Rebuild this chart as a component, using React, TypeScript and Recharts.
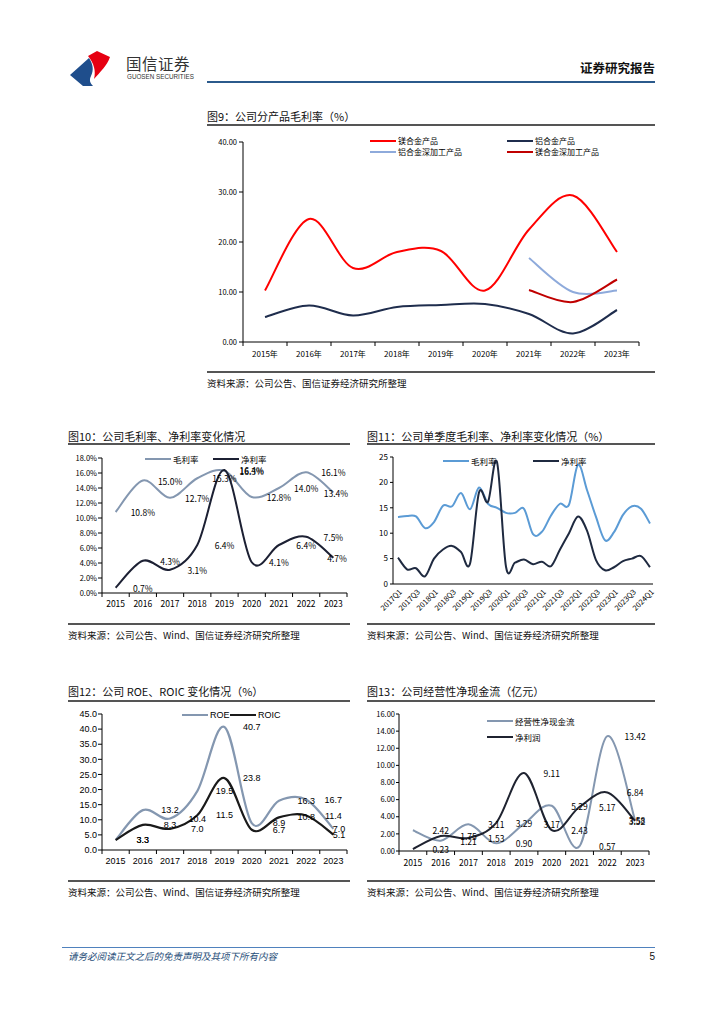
import React from "react";
import { LineChart, Line, XAxis, YAxis, Legend, LabelList } from "recharts";

const CJK = '"Noto Sans CJK SC", "Noto Sans", sans-serif';
const ARIAL = '"Liberation Sans", Arial, sans-serif';

// ---- data ----
const years = ["2015", "2016", "2017", "2018", "2019", "2020", "2021", "2022", "2023"];

// 图9 分产品毛利率
const mgProduct = [10.3, 24.6, 14.8, 18.0, 18.2, 10.3, 22.5, 29.3, 18.0];
const alProduct = [5.0, 7.3, 5.3, 7.0, 7.4, 7.6, 5.6, 1.7, 6.4];
const alDeep = [null, null, null, null, null, null, 16.8, 10.0, 10.3];
const mgDeep = [null, null, null, null, null, null, 10.4, 8.0, 12.5];

// 图10 毛利率、净利率
const grossMargin = [10.8, 15.0, 12.7, 15.3, 16.3, 12.8, 14.0, 16.1, 13.4];
const netMargin = [0.7, 4.3, 3.1, 6.4, 16.4, 4.1, 6.4, 7.5, 4.7];

// 图11 单季度
const quarters = [
  "2017Q1", "2017Q2", "2017Q3", "2017Q4", "2018Q1", "2018Q2", "2018Q3", "2018Q4",
  "2019Q1", "2019Q2", "2019Q3", "2019Q4", "2020Q1", "2020Q2", "2020Q3", "2020Q4",
  "2021Q1", "2021Q2", "2021Q3", "2021Q4", "2022Q1", "2022Q2", "2022Q3", "2022Q4",
  "2023Q1", "2023Q2", "2023Q3", "2023Q4", "2024Q1",
];
const qGross = [
  13.2, 13.4, 13.3, 11.0, 12.2, 15.4, 15.3, 17.9, 14.7, 19.0, 15.8, 15.0, 14.0, 14.0, 14.8,
  9.8, 10.3, 13.5, 15.8, 15.6, 23.5, 18.5, 13.2, 8.6, 10.2, 13.6, 15.3, 14.8, 11.9,
];
const qNet = [
  5.2, 2.9, 3.1, 1.5, 5.0, 6.8, 7.5, 6.3, 4.0, 18.0, 16.2, 24.0, 3.4, 4.2, 4.8,
  3.9, 4.4, 3.5, 6.8, 10.0, 13.3, 10.5, 4.7, 2.7, 3.3, 4.5, 5.0, 5.5, 3.3,
];

// 图12 ROE、ROIC
const roe = [3.3, 13.2, 10.4, 19.5, 40.7, 8.9, 16.3, 16.7, 7.0];
const roic = [3.3, 8.3, 7.0, 11.5, 23.8, 6.7, 10.8, 11.4, 5.1];

// 图13 经营性净现金流
const opCash = [2.42, 1.21, 3.11, 0.9, 3.17, 5.29, 0.57, 13.42, 3.58];
const netProfit = [0.23, 1.75, 1.53, 3.29, 9.11, 2.43, 5.17, 6.84, 3.52];

const data9 = years.map((y, i) => ({
  year: y + "年", mg: mgProduct[i], al: alProduct[i], alDeep: alDeep[i], mgDeep: mgDeep[i],
}));
const data10 = years.map((y, i) => ({ year: y, gross: grossMargin[i], net: netMargin[i] }));
const data11 = quarters.map((q, i) => ({ q, gross: qGross[i], net: qNet[i] }));
const data12 = years.map((y, i) => ({ year: y, roe: roe[i], roic: roic[i] }));
const data13 = years.map((y, i) => ({ year: y, op: opCash[i], net: netProfit[i] }));

// excel-like smoothed line (catmull-rom through the points)
const smooth: any = (context: any) => {
  let pts: number[][] = [];
  return {
    areaStart() {},
    areaEnd() {},
    lineStart() {
      pts = [];
    },
    point(x: number, y: number) {
      pts.push([+x, +y]);
    },
    lineEnd() {
      if (!pts.length) return;
      context.moveTo(pts[0][0], pts[0][1]);
      for (let i = 0; i < pts.length - 1; i++) {
        const p0 = pts[i - 1] || pts[i];
        const p1 = pts[i];
        const p2 = pts[i + 1];
        const p3 = pts[i + 2] || p2;
        context.bezierCurveTo(
          p1[0] + (p2[0] - p0[0]) / 6, p1[1] + (p2[1] - p0[1]) / 6,
          p2[0] - (p3[0] - p1[0]) / 6, p2[1] - (p3[1] - p1[1]) / 6,
          p2[0], p2[1]
        );
      }
    },
  };
};

// x tick with excel style tick marks between categories
const bandTick = (band: number, count: number, size: number, font: string, dy: number) => (p: any) => {
  const { x, y, payload, index } = p;
  return (
    <g>
      <line x1={x - band / 2} x2={x - band / 2} y1={y} y2={y + 4} stroke="#000" />
      {index === count - 1 && <line x1={x + band / 2} x2={x + band / 2} y1={y} y2={y + 4} stroke="#000" />}
      <text x={x} y={y + dy} textAnchor="middle" dominantBaseline="central" fontSize={size} fontFamily={font} fill="#000">
        {payload.value}
      </text>
    </g>
  );
};

const rotTick = (p: any) => {
  const { x, y, payload } = p;
  return (
    <text x={x + 2} y={y} transform={`rotate(-45 ${x + 2} ${y})`} textAnchor="end" dominantBaseline="central"
      fontSize={7.5} fontFamily={CJK} fill="#000">
      {payload.value}
    </text>
  );
};

// data labels shifted one category right, like the source charts
const shiftLabel = (shift: number, maxX: number, fmt: (v: number) => string, size: number, font: string) => (p: any) => {
  if (p.value == null) return null;
  const cx = Math.min(p.x + shift, maxX);
  return (
    <text x={cx} y={p.y} textAnchor="middle" dominantBaseline="central" fontSize={size} fontFamily={font} fill="#000">
      {fmt(p.value)}
    </text>
  );
};

type LegendItem = { label: string; color: string; x: number; y: number };
const legendContent = (items: LegendItem[], size: number, font: string) => () => (
  <div style={{ position: "relative", width: 1, height: 1 }}>
    {items.map((it) => (
      <div key={it.label} style={{ position: "absolute", left: it.x, top: it.y - 7, height: 14, display: "flex", alignItems: "center", whiteSpace: "nowrap" }}>
        <span style={{ display: "inline-block", width: 26, height: 2, background: it.color, marginRight: 2 }} />
        <span style={{ fontSize: size, fontFamily: font, color: "#000", lineHeight: "14px" }}>{it.label}</span>
      </div>
    ))}
  </div>
);

const yTick = (size: number, font: string) => ({ fontSize: size, fontFamily: font, fill: "#000" });

function Frame({ left, width, title, titleTop, lineTop, srcLineTop, source }: any) {
  return (
    <>
      <div style={{ position: "absolute", left, top: titleTop, fontSize: 11, lineHeight: "14px", color: "#111", fontFamily: CJK, whiteSpace: "nowrap" }}>
        {title}
      </div>
      <div style={{ position: "absolute", left, top: lineTop, width, height: 1.5, background: "#555" }} />
      <div style={{ position: "absolute", left, top: srcLineTop, width, height: 1.5, background: "#555" }} />
      <div style={{ position: "absolute", left, top: srcLineTop + 5, fontSize: 9.5, lineHeight: "14px", color: "#111", fontFamily: CJK, whiteSpace: "nowrap" }}>
        {source}
      </div>
    </>
  );
}

const legendWrap = { left: 0, top: 0, width: 1, height: 1 };

export default function App() {
  const b10 = 245 / 9;
  const b13 = 250 / 9;
  return (
    <div style={{ position: "absolute", left: 0, top: 0, width: 724, height: 1024, background: "#fff", fontFamily: CJK, overflow: "hidden" }}>
      {/* header */}
      <svg style={{ position: "absolute", left: 68, top: 50 }} width={46} height={38}>
        <path d="M2,25 L21,8 C25,14 26,20 23,26 C21,30 22,33 25,36 L15,36 Z" fill="#1f4e8c" />
        <path d="M20,6 L29,1 L42,7 C39,16 32,22 26,29 C28,21 26,13 20,6 Z" fill="#e60012" />
      </svg>
      <div style={{ position: "absolute", left: 126, top: 54, fontSize: 15.5, lineHeight: "18px", color: "#333", fontFamily: CJK, letterSpacing: 0.5 }}>
        国信证券
      </div>
      <div style={{ position: "absolute", left: 127, top: 73, fontSize: 6.3, lineHeight: "8px", color: "#333", fontFamily: ARIAL }}>
        GUOSEN SECURITIES
      </div>
      <div style={{ position: "absolute", right: 724 - 655, top: 60, fontSize: 12.5, lineHeight: "16px", fontWeight: 700, color: "#111", fontFamily: CJK }}>
        证券研究报告
      </div>
      <div style={{ position: "absolute", left: 207, top: 81, width: 448, height: 2, background: "#2b5a8c" }} />

      {/* 图9 */}
      <Frame left={207} width={448} title="图9：公司分产品毛利率（%）" titleTop={109} lineTop={124} srcLineTop={371}
        source="资料来源：公司公告、国信证券经济研究所整理" />
      <div style={{ position: "absolute", left: 200, top: 130 }}>
        <LineChart width={460} height={245} data={data9} margin={{ top: 12, right: 21, left: 0, bottom: 0 }}>
          <XAxis dataKey="year" interval={0} height={33} tickSize={0} tickMargin={0} tickLine={false}
            axisLine={{ stroke: "#000" }} padding={{ left: 22, right: 22 }} tick={bandTick(44, 9, 8, CJK, 11)} />
          <YAxis width={43} domain={[0, 40]} ticks={[0, 10, 20, 30, 40]} interval={0} tickSize={4} tickMargin={2}
            tickFormatter={(v: number) => v.toFixed(2)} tick={yTick(7.5, CJK)} axisLine={{ stroke: "#000" }} tickLine={{ stroke: "#000" }} />
          <Legend layout="horizontal" verticalAlign="middle" align="center" wrapperStyle={legendWrap}
            content={legendContent([
              { label: "镁合金产品", color: "#ff0000", x: 170, y: 11 },
              { label: "铝合金产品", color: "#1f2d4d", x: 307, y: 11 },
              { label: "铝合金深加工产品", color: "#8eaadb", x: 170, y: 22 },
              { label: "镁合金深加工产品", color: "#c00000", x: 307, y: 22 },
            ], 8, CJK)} />
          <Line dataKey="mg" type={smooth} stroke="#ff0000" strokeWidth={2} dot={false} isAnimationActive={false} />
          <Line dataKey="al" type={smooth} stroke="#1f2d4d" strokeWidth={2} dot={false} isAnimationActive={false} />
          <Line dataKey="alDeep" type={smooth} stroke="#8eaadb" strokeWidth={2} dot={false} isAnimationActive={false} />
          <Line dataKey="mgDeep" type={smooth} stroke="#c00000" strokeWidth={2} dot={false} isAnimationActive={false} />
        </LineChart>
      </div>

      {/* 图10 */}
      <Frame left={68} width={282} title="图10：公司毛利率、净利率变化情况" titleTop={429} lineTop={443} srcLineTop={623}
        source="资料来源：公司公告、Wind、国信证券经济研究所整理" />
      <div style={{ position: "absolute", left: 60, top: 450 }}>
        <LineChart width={295} height={165} data={data10} margin={{ top: 8, right: 8, left: 0, bottom: 0 }}>
          <XAxis dataKey="year" interval={0} height={22} tickSize={0} tickMargin={0} tickLine={false}
            axisLine={{ stroke: "#000" }} padding={{ left: b10 / 2, right: b10 / 2 }} tick={bandTick(b10, 9, 8.5, CJK, 10)} />
          <YAxis width={42} domain={[0, 18]} ticks={[0, 2, 4, 6, 8, 10, 12, 14, 16, 18]} interval={0} tickSize={4} tickMargin={1}
            tickFormatter={(v: number) => v.toFixed(1) + "%"} tick={yTick(7.5, CJK)} axisLine={{ stroke: "#000" }} tickLine={{ stroke: "#000" }} />
          <Legend layout="horizontal" verticalAlign="middle" align="center" wrapperStyle={legendWrap}
            content={legendContent([
              { label: "毛利率", color: "#8497b0", x: 85, y: 9 },
              { label: "净利率", color: "#1c2033", x: 153, y: 9 },
            ], 8.5, CJK)} />
          <Line dataKey="gross" type={smooth} stroke="#8497b0" strokeWidth={2} dot={false} isAnimationActive={false}>
            <LabelList dataKey="gross" content={shiftLabel(b10, 276, (v) => v.toFixed(1) + "%", 8.5, CJK)} />
          </Line>
          <Line dataKey="net" type={smooth} stroke="#1c2033" strokeWidth={2} dot={false} isAnimationActive={false}>
            <LabelList dataKey="net" content={shiftLabel(b10, 277, (v) => v.toFixed(1) + "%", 8.5, CJK)} />
          </Line>
        </LineChart>
      </div>

      {/* 图11 */}
      <Frame left={367} width={288} title="图11：公司单季度毛利率、净利率变化情况（%）" titleTop={429} lineTop={443} srcLineTop={623}
        source="资料来源：公司公告、Wind、国信证券经济研究所整理" />
      <div style={{ position: "absolute", left: 360, top: 450 }}>
        <LineChart width={300} height={174} data={data11} margin={{ top: 7, right: 7, left: 0, bottom: 0 }}>
          <XAxis dataKey="q" interval={1} height={40} tickSize={0} tickMargin={6} tickLine={false}
            axisLine={{ stroke: "#000" }} padding={{ left: 5, right: 3 }} tick={rotTick} />
          <YAxis width={33} domain={[0, 25]} ticks={[0, 5, 10, 15, 20, 25]} interval={0} tickSize={3} tickMargin={2}
            tick={yTick(8, CJK)} axisLine={{ stroke: "#000" }} tickLine={{ stroke: "#000" }} />
          <Legend layout="horizontal" verticalAlign="middle" align="center" wrapperStyle={legendWrap}
            content={legendContent([
              { label: "毛利率", color: "#5b9bd5", x: 83, y: 11 },
              { label: "净利率", color: "#1f2a40", x: 173, y: 11 },
            ], 8.5, CJK)} />
          <Line dataKey="gross" type={smooth} stroke="#5b9bd5" strokeWidth={2} dot={false} isAnimationActive={false} />
          <Line dataKey="net" type={smooth} stroke="#1f2a40" strokeWidth={2} dot={false} isAnimationActive={false} />
        </LineChart>
      </div>

      {/* 图12 */}
      <Frame left={68} width={282} title="图12：公司 ROE、ROIC 变化情况（%）" titleTop={684} lineTop={700} srcLineTop={880}
        source="资料来源：公司公告、Wind、国信证券经济研究所整理" />
      <div style={{ position: "absolute", left: 60, top: 705 }}>
        <LineChart width={295} height={167} data={data12} margin={{ top: 9, right: 8, left: 0, bottom: 0 }}>
          <XAxis dataKey="year" interval={0} height={22} tickSize={0} tickMargin={0} tickLine={false}
            axisLine={{ stroke: "#000" }} padding={{ left: b10 / 2, right: b10 / 2 }} tick={bandTick(b10, 9, 9, ARIAL, 11)} />
          <YAxis width={42} domain={[0, 45]} ticks={[0, 5, 10, 15, 20, 25, 30, 35, 40, 45]} interval={0} tickSize={4} tickMargin={1}
            tickFormatter={(v: number) => v.toFixed(1)} tick={yTick(9, ARIAL)} axisLine={{ stroke: "#000" }} tickLine={{ stroke: "#000" }} />
          <Legend layout="horizontal" verticalAlign="middle" align="center" wrapperStyle={legendWrap}
            content={legendContent([
              { label: "ROE", color: "#8497b0", x: 122, y: 10 },
              { label: "ROIC", color: "#1a1a1a", x: 170, y: 10 },
            ], 9, ARIAL)} />
          <Line dataKey="roe" type={smooth} stroke="#8497b0" strokeWidth={2.2} dot={false} isAnimationActive={false}>
            <LabelList dataKey="roe" content={shiftLabel(b10, 279, (v) => v.toFixed(1), 9, ARIAL)} />
          </Line>
          <Line dataKey="roic" type={smooth} stroke="#1a1a1a" strokeWidth={2.2} dot={false} isAnimationActive={false}>
            <LabelList dataKey="roic" content={shiftLabel(b10, 279, (v) => v.toFixed(1), 9, ARIAL)} />
          </Line>
        </LineChart>
      </div>

      {/* 图13 */}
      <Frame left={367} width={288} title="图13：公司经营性净现金流（亿元）" titleTop={684} lineTop={700} srcLineTop={880}
        source="资料来源：公司公告、Wind、国信证券经济研究所整理" />
      <div style={{ position: "absolute", left: 360, top: 705 }}>
        <LineChart width={300} height={168} data={data13} margin={{ top: 9, right: 11, left: 0, bottom: 0 }}>
          <XAxis dataKey="year" interval={0} height={22} tickSize={0} tickMargin={0} tickLine={false}
            axisLine={{ stroke: "#000" }} padding={{ left: b13 / 2, right: b13 / 2 }} tick={bandTick(b13, 9, 8.5, CJK, 11)} />
          <YAxis width={39} domain={[0, 16]} ticks={[0, 2, 4, 6, 8, 10, 12, 14, 16]} interval={0} tickSize={3} tickMargin={1}
            tickFormatter={(v: number) => v.toFixed(2)} tick={yTick(7.5, CJK)} axisLine={{ stroke: "#000" }} tickLine={{ stroke: "#000" }} />
          <Legend layout="horizontal" verticalAlign="middle" align="center" wrapperStyle={legendWrap}
            content={legendContent([
              { label: "经营性净现金流", color: "#8497b0", x: 127, y: 16 },
              { label: "净利润", color: "#1f2330", x: 127, y: 32 },
            ], 8.5, CJK)} />
          <Line dataKey="op" type={smooth} stroke="#8497b0" strokeWidth={2} dot={false} isAnimationActive={false}>
            <LabelList dataKey="op" content={shiftLabel(b13, 277, (v) => v.toFixed(2), 8.5, CJK)} />
          </Line>
          <Line dataKey="net" type={smooth} stroke="#1f2330" strokeWidth={2} dot={false} isAnimationActive={false}>
            <LabelList dataKey="net" content={shiftLabel(b13, 277, (v) => v.toFixed(2), 8.5, CJK)} />
          </Line>
        </LineChart>
      </div>

      {/* footer */}
      <div style={{ position: "absolute", left: 62, top: 947, width: 593, height: 1, background: "#4f81bd" }} />
      <div style={{ position: "absolute", left: 68, top: 949, fontSize: 9.5, lineHeight: "14px", fontStyle: "italic", color: "#1f4e79", fontFamily: CJK }}>
        请务必阅读正文之后的免责声明及其项下所有内容
      </div>
      <div style={{ position: "absolute", right: 724 - 655, top: 950, fontSize: 10, lineHeight: "14px", color: "#111", fontFamily: ARIAL }}>
        5
      </div>
    </div>
  );
}
